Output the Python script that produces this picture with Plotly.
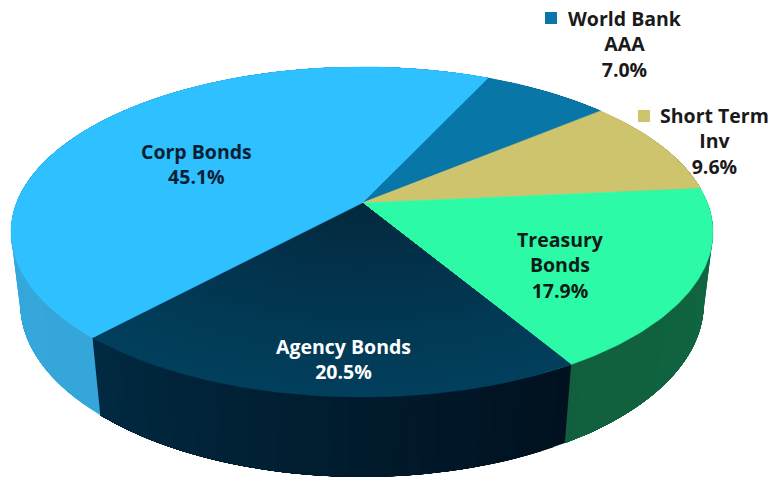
import numpy as np
import plotly.graph_objects as go

# Portfolio allocation, clockwise from the start angle
categories = ["World Bank AAA", "Short Term Inv", "Treasury Bonds", "Agency Bonds", "Corp Bonds"]
shares = [7.0, 9.6, 17.9, 20.5, 45.1]
label_lines = [["World Bank", "AAA"], ["Short Term", "Inv"], ["Treasury", "Bonds"],
               ["Agency Bonds"], ["Corp Bonds"]]
top_colors = ["#0877a8", "#cfc46e", "#2dfaa6", "#023f5d", "#2ec0ff"]
wall_colors = ["#07587c", "#98904f", "#10663f", "#01243a", "#36a8dc"]
text_colors = ["#1a1a1a", "#1a1a1a", "#0d1c18", "#ffffff", "#0a1f33"]

WIDTH, HEIGHT = 771, 478
START_DEG = 25.0

# Perspective projection of a unit disc: v points to the viewer, z points down
CX, CY = 362.0, 203.0
SX, SY = 345.5, 159.9
TILT = 0.1757
DEPTH, DEPTH_SHRINK = 73.0, 0.026


def project(u, v, z=0.0):
    w = 1 - TILT * v + DEPTH_SHRINK * z
    return CX + SX * u / w, CY + (SY * v + DEPTH * z) / w


def rim(angle_deg, radius=1.0, z=0.0):
    a = np.radians(angle_deg)
    return project(radius * np.sin(a), -radius * np.cos(a), z)


def mix(c1, c2, t):
    a = [int(c1[i:i + 2], 16) for i in (1, 3, 5)]
    b = [int(c2[i:i + 2], 16) for i in (1, 3, 5)]
    return "rgb({},{},{})".format(*[round(p + (q - p) * t) for p, q in zip(a, b)])


def polygon(x, y, color, edge=0.6):
    return go.Scatter(x=list(x) + [x[0]], y=list(y) + [y[0]], mode="lines", fill="toself",
                      fillcolor=color, line=dict(color=color, width=edge),
                      hoverinfo="skip", showlegend=False)


fig = go.Figure()

total = sum(shares)
edges = START_DEG + np.concatenate([[0], np.cumsum(shares)]) / total * 360

# Outer wall: each band runs to the end of its slice and the next one paints over it,
# so the shading along the rim has no seams
wall_shade = {"Agency Bonds": ("#01111f", "#012a42"),
              "Corp Bonds": ("#34a6da", "#3aacdf"),
              "Treasury Bonds": ("#0f6a42", "#115f3e")}
for name, a0, a1, base in zip(categories, edges[:-1], edges[1:], wall_colors):
    n = max(int((a1 - a0) / 2), 2)
    steps = np.linspace(a0, a1, n + 1)
    start, end = wall_shade.get(name, (base, base))
    for i in range(n):
        s = np.linspace(steps[i], a1, 40)
        xt, yt = rim(s)
        xb, yb = rim(s[::-1], z=1.0)
        fig.add_trace(polygon(np.r_[xt, xb], np.r_[yt, yb], mix(start, end, i / n), edge=0))

# Top face; the Agency wedge gets lighter toward its rim
for name, a0, a1, color in zip(categories, edges[:-1], edges[1:], top_colors):
    s = np.linspace(a0, a1, 90)
    xr, yr = rim(s)
    ax, ay = project(0.0, 0.0)
    fig.add_trace(polygon(np.r_[ax, xr], np.r_[ay, yr], color))
    if name == "Agency Bonds":
        for r in np.linspace(0.98, 0.04, 30):
            xr, yr = rim(s, radius=r)
            fig.add_trace(polygon(np.r_[ax, xr], np.r_[ay, yr], mix("#023f5d", "#03283d", 1 - r), edge=0))

# Square keys beside the two labels placed outside the pie
fig.add_trace(go.Scatter(x=[551, 644], y=[18, 116], mode="markers",
                         marker=dict(symbol="square", size=12, color=[top_colors[0], top_colors[1]]),
                         hoverinfo="skip", showlegend=False))

# Labels
label_pos = [(625, 44), (714, 141), (560, 265), (343, 359), (196, 164)]
for lines, share, pos, color in zip(label_lines, shares, label_pos, text_colors):
    fig.add_annotation(x=pos[0], y=pos[1], xref="x", yref="y", showarrow=False, align="center",
                       text="<br>".join(lines + [f"{share:.1f}%"]),
                       font=dict(family="Open Sans", size=19.5, color=color, weight="bold"))

fig.update_layout(width=WIDTH, height=HEIGHT, margin=dict(l=0, r=0, t=0, b=0),
                  paper_bgcolor="white", plot_bgcolor="white", showlegend=False,
                  xaxis=dict(range=[0, WIDTH], visible=False, fixedrange=True),
                  yaxis=dict(range=[HEIGHT, 0], visible=False, fixedrange=True))

fig.write_html("out.html", config={"displayModeBar": False})
